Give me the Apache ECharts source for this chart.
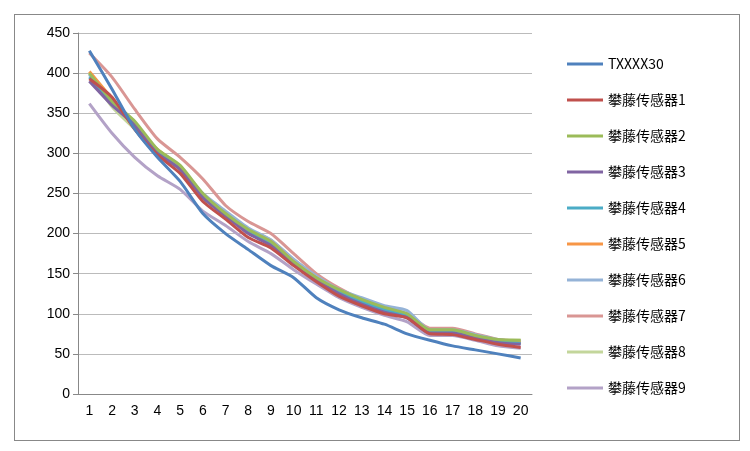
<!DOCTYPE html><html><head><meta charset="utf-8"><script src="https://cdn.jsdelivr.net/npm/echarts@6/dist/echarts.min.js"></script>
<style>body{margin:0}#c{width:750px;height:451px}#b{position:absolute;left:14px;top:14px;width:726px;height:427px;border:1px solid #888;box-sizing:border-box}</style></head><body><div id="b"></div><div id="c"></div><script>
const categories=['1','2','3','4','5','6','7','8','9','10','11','12','13','14','15','16','17','18','19','20'];
const names=['TXXXX30','攀藤传感器1','攀藤传感器2','攀藤传感器3','攀藤传感器4','攀藤传感器5','攀藤传感器6','攀藤传感器7','攀藤传感器8','攀藤传感器9'];
const s0=[428,380,330,295,265,225,200,180,160,145,120,105,95,87,75,67,60,55,50,45];
const s1=[393,370,330,298,275,240,218,195,182,160,140,122,110,100,95,75,74,68,62,58];
const s2=[400,365,340,305,285,250,225,205,190,165,145,130,118,108,100,80,80,73,68,67];
const s3=[390,360,335,300,280,245,222,200,185,162,142,125,112,102,95,76,76,70,64,62];
const s4=[395,362,335,302,280,245,222,202,188,164,143,127,115,105,98,78,78,72,66,63];
const s5=[402,368,332,305,283,248,223,203,190,165,145,128,115,105,98,78,77,72,66,64];
const s6=[398,360,338,303,282,250,228,207,192,168,147,130,120,110,104,80,80,74,68,65];
const s7=[425,395,355,318,295,268,235,215,200,175,150,132,118,108,100,82,82,75,68,66];
const s8=[400,358,330,298,282,245,225,205,192,167,148,130,118,108,100,80,80,74,67,67];
const s9=[362,325,295,272,255,228,210,190,175,155,137,120,108,98,90,73,73,67,60,57];
const data=[s0,s1,s2,s3,s4,s5,s6,s7,s8,s9];
const colors=['#4F81BD','#C0504D','#9BBB59','#8064A2','#4BACC6','#F79646','#95B3D7','#D99694','#C3D69B','#B3A2C7'];
const order=[9,8,7,6,5,4,3,2,1,0];
const c=echarts.init(document.getElementById('c'));
c.setOption({animation:false,color:colors,
grid:{left:78,right:218,top:33,bottom:57},
legend:{orient:'vertical',left:562,top:52,itemGap:22,itemWidth:36,itemHeight:3,icon:'rect',textStyle:{fontSize:14,color:'#000',fontFamily:'Noto Sans CJK SC'},data:names},
xAxis:{type:'category',data:categories,boundaryGap:true,axisLine:{lineStyle:{color:'#888'}},axisTick:{lineStyle:{color:'#888'}},axisLabel:{color:'#000',fontSize:14,interval:0,margin:10}},
yAxis:{type:'value',min:0,max:450,interval:50,axisLine:{show:true,lineStyle:{color:'#888'}},axisTick:{show:true,lineStyle:{color:'#888'}},axisLabel:{color:'#000',fontSize:14},splitLine:{lineStyle:{color:'#bbb'}}},
series:order.map(i=>({name:names[i],type:'line',data:data[i],smooth:0.2,symbol:'none',itemStyle:{color:colors[i]},lineStyle:{width:3,color:colors[i]}}))
});
</script></body></html>
